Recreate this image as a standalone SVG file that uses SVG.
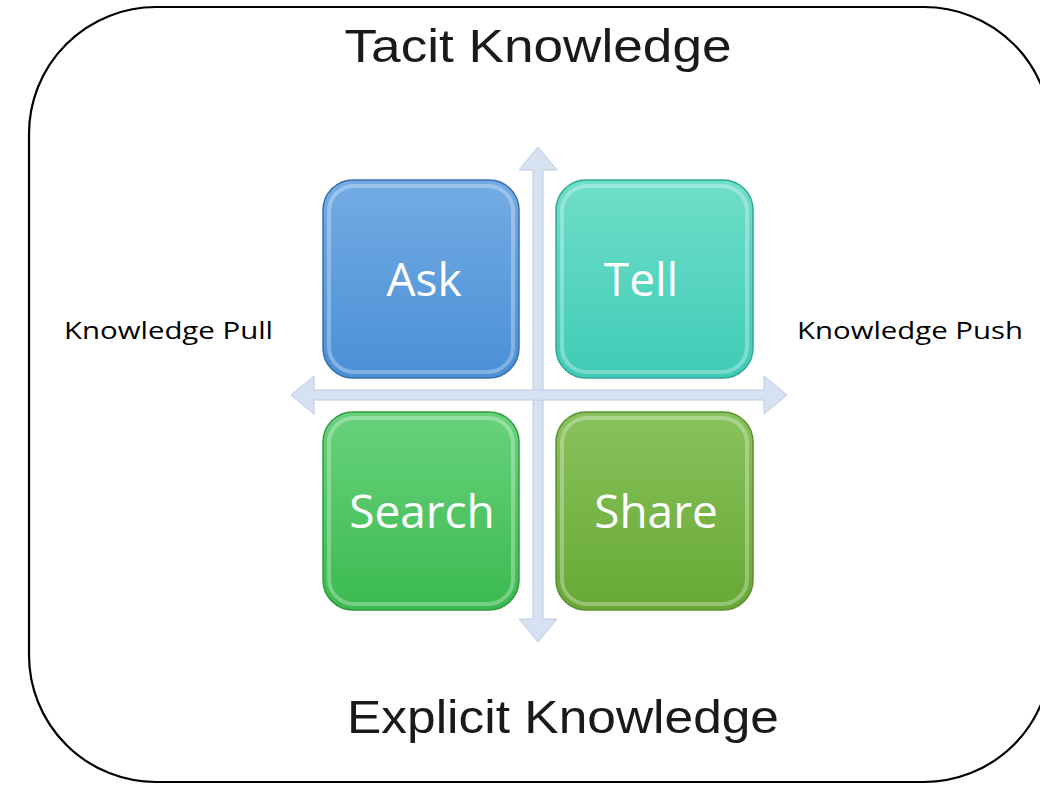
<svg xmlns="http://www.w3.org/2000/svg" width="1040" height="785" viewBox="0 0 1040 785">
<style>
.big{font-family:"Liberation Sans","Open Sans",sans-serif;font-size:47px;fill:#1a1a1a}
.side{font-family:"Open Sans","Liberation Sans",sans-serif;font-size:23px;fill:#000}
.lbl{font-family:"Open Sans","Liberation Sans",sans-serif;font-size:46px;fill:#fff;text-anchor:middle}
.box{stroke-width:1.5}
.bevel{fill:none;stroke:#fff;stroke-opacity:0.3;stroke-width:4}
.axis{fill:#d6e1f2;stroke:#bccbe2;stroke-width:1}
</style>
<defs>
<linearGradient id="gAsk" x1="0" y1="0" x2="0" y2="1"><stop offset="0" stop-color="#74abe4"/><stop offset="1" stop-color="#4a90d6"/></linearGradient>
<linearGradient id="gTell" x1="0" y1="0" x2="0" y2="1"><stop offset="0" stop-color="#6fdec9"/><stop offset="1" stop-color="#3fcbb6"/></linearGradient>
<linearGradient id="gSearch" x1="0" y1="0" x2="0" y2="1"><stop offset="0" stop-color="#68d27c"/><stop offset="1" stop-color="#3bba4f"/></linearGradient>
<linearGradient id="gShare" x1="0" y1="0" x2="0" y2="1"><stop offset="0" stop-color="#88c25c"/><stop offset="1" stop-color="#67a934"/></linearGradient>
</defs>
<rect x="29" y="7" width="1022" height="775" rx="127" ry="127" fill="#fff" stroke="#000" stroke-width="2.2"/>
<text class="big" x="538" y="62" text-anchor="middle" textLength="387" lengthAdjust="spacingAndGlyphs">Tacit Knowledge</text>
<text class="big" x="563" y="733" text-anchor="middle" textLength="432" lengthAdjust="spacingAndGlyphs">Explicit Knowledge</text>
<text class="side" x="64" y="339" textLength="209" lengthAdjust="spacingAndGlyphs">Knowledge Pull</text>
<text class="side" x="797" y="339" textLength="226" lengthAdjust="spacingAndGlyphs">Knowledge Push</text>
<g id="connectors">
<path class="axis" d="M533,170 L519,170 L538,147 L557,170 L543,170 L543,619 L557,619 L538,642 L519,619 L533,619 Z"/>
<path class="axis" d="M291,395 L314,376 L314,390 L764,390 L764,376 L787,395 L764,414 L764,400 L314,400 L314,414 Z"/>
<rect x="533.5" y="390.5" width="9" height="9" fill="#d6e1f2"/>
</g>
<g id="ask">
<rect class="box" x="323" y="180" width="196" height="198" rx="30" fill="url(#gAsk)" stroke="#3a6fae"/>
<rect class="bevel" x="329" y="186" width="184" height="186" rx="25"/>
<text class="lbl" x="424" y="296">Ask</text>
</g>
<g id="tell">
<rect class="box" x="556" y="180" width="197" height="198" rx="30" fill="url(#gTell)" stroke="#2fa895"/>
<rect class="bevel" x="562" y="186" width="185" height="186" rx="25"/>
<text class="lbl" x="641" y="296">Tell</text>
</g>
<g id="search">
<rect class="box" x="323" y="412" width="196" height="198" rx="30" fill="url(#gSearch)" stroke="#2f9a42"/>
<rect class="bevel" x="329" y="418" width="184" height="186" rx="25"/>
<text class="lbl" x="422" y="528">Search</text>
</g>
<g id="share">
<rect class="box" x="556" y="412" width="197" height="198" rx="30" fill="url(#gShare)" stroke="#5a9030"/>
<rect class="bevel" x="562" y="418" width="185" height="186" rx="25"/>
<text class="lbl" x="656" y="528">Share</text>
</g>
</svg>
